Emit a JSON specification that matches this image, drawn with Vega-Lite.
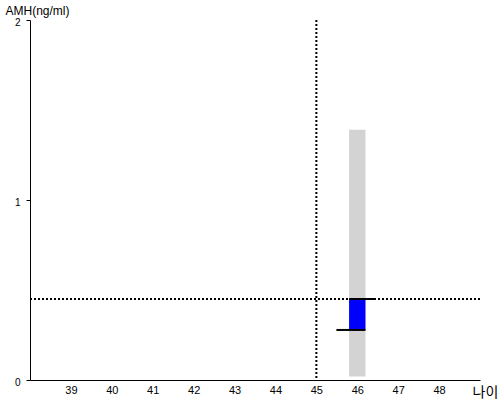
{
  "$schema": "https://vega.github.io/schema/vega-lite/v6.json",
  "width": 450,
  "height": 360,
  "autosize": {"type": "none"},
  "padding": {"left": 30, "top": 20, "right": 20, "bottom": 20},
  "background": "white",
  "config": {
    "view": {"stroke": null},
    "font": "Liberation Sans",
    "axis": {"domainColor": "black", "tickColor": "black", "labelColor": "black", "titleColor": "black", "grid": false, "labelFont": "Liberation Sans", "titleFont": "Liberation Sans", "titleFontWeight": "normal"}
  },
  "datasets": {
    "box": [{"age_lo": 45.8, "age_hi": 46.2, "range_lo": 0.02, "range_hi": 1.39, "open": 0.278, "close": 0.45}],
    "ref": [{"age": 45, "amh": 0.45}],
    "ticks": [
      {"y": 0.45, "x1": 45.8, "x2": 46.42},
      {"y": 0.278, "x1": 45.49, "x2": 46.2}
    ]
  },
  "layer": [
    {
      "data": {"name": "box"},
      "mark": {"type": "rect", "color": "#d3d3d3"},
      "encoding": {
        "x": {"field": "age_lo", "type": "quantitative", "scale": {"domain": [38, 49], "nice": false, "zero": false},
          "axis": {"values": [39, 40, 41, 42, 43, 44, 45, 46, 47, 48], "format": ".0f", "ticks": false, "labelPadding": 4, "labelFontSize": 11, "title": "나이", "titleFont": "Noto Sans CJK KR", "titleFontSize": 14, "titleX": 442, "titleY": 12, "titleAlign": "left", "titleBaseline": "middle"}},
        "x2": {"field": "age_hi"},
        "y": {"field": "range_lo", "type": "quantitative", "scale": {"domain": [0, 2], "nice": false},
          "axis": {"values": [0, 1, 2], "format": ".0f", "tickSize": 4, "labelPadding": 6, "labelBaseline": "middle", "labelOffset": 2, "labelFontSize": 10, "labelOverlap": false, "labelFlush": false, "title": "AMH(ng/ml)", "titleFontSize": 12, "titleAngle": 0, "titleX": -25, "titleY": -10, "titleAlign": "left", "titleBaseline": "middle"}},
        "y2": {"field": "range_hi"}
      }
    },
    {
      "data": {"name": "box"},
      "mark": {"type": "rect", "color": "blue"},
      "encoding": {
        "x": {"field": "age_lo", "type": "quantitative"},
        "x2": {"field": "age_hi"},
        "y": {"field": "open", "type": "quantitative"},
        "y2": {"field": "close"}
      }
    },
    {
      "data": {"name": "ref"},
      "mark": {"type": "rule", "color": "black", "strokeWidth": 2, "strokeDash": [2, 2]},
      "encoding": {"x": {"field": "age", "type": "quantitative"}}
    },
    {
      "data": {"name": "ref"},
      "mark": {"type": "rule", "color": "black", "strokeWidth": 2, "strokeDash": [2, 2]},
      "encoding": {"y": {"field": "amh", "type": "quantitative"}}
    },
    {
      "data": {"name": "ticks"},
      "mark": {"type": "rule", "color": "black", "strokeWidth": 2},
      "encoding": {
        "x": {"field": "x1", "type": "quantitative"},
        "x2": {"field": "x2"},
        "y": {"field": "y", "type": "quantitative"}
      }
    }
  ]
}
